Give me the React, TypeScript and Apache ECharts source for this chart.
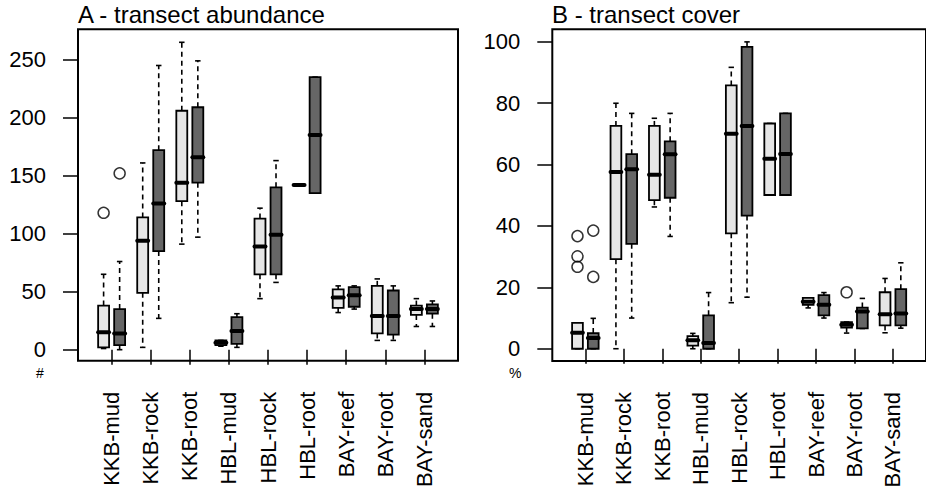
import React, { useEffect, useRef } from "react";
import * as echarts from "echarts";

// ---- data ----
const categories = ["KKB-mud", "KKB-rock", "KKB-root", "HBL-mud", "HBL-rock", "HBL-root", "BAY-reef", "BAY-root", "BAY-sand"];

// [whiskerLow, Q1, median, Q3, whiskerHigh]
const abundanceLight = [
  [1, 2, 15, 38, 65],
  [2, 49, 94, 114, 161],
  [91, 128, 144, 206, 265],
  [3, 4, 6, 8, 8],
  [44, 65, 89, 113, 122],
  [142, 142, 142, 142, 142],
  [32, 36, 45, 52, 55],
  [8, 14, 29, 55, 61],
  [20, 30, 35, 38, 44],
];
const abundanceDark = [
  [0, 4, 14, 35, 76],
  [27, 85, 126, 172, 245],
  [97, 144, 166, 209, 249],
  [2, 5, 16, 28, 31],
  [58, 65, 99, 140, 163],
  [135, 135, 185, 235, 235],
  [35, 37, 47, 54, 55],
  [8, 13, 29, 51, 55],
  [20, 31, 35, 39, 42],
];
const abundanceOutliersLight = [[0, 118]]; // [categoryIndex, value]
const abundanceOutliersDark = [[0, 152]];

const coverLight = [
  [0, 0, 5.2, 8.4, 8.4],
  [0, 29.2, 57.6, 72.6, 80],
  [46.2, 48.4, 56.7, 72.6, 75.1],
  [0, 1, 2.8, 4.1, 5],
  [15, 37.6, 70.1, 85.8, 91.7],
  [50.1, 50.1, 61.9, 73.4, 73.4],
  [13.3, 14.3, 15.3, 16.6, 16.6],
  [5.1, 6.9, 7.8, 8.7, 8.7],
  [5.2, 7.6, 11.2, 18.4, 22.9],
];
const coverDark = [
  [0, 0, 3.5, 5.1, 9.9],
  [10, 34.2, 58.5, 63.4, 76.7],
  [36.6, 49.2, 63.4, 67.6, 76.7],
  [0, 0, 1.9, 10.9, 18.3],
  [16.8, 43.4, 72.6, 98.4, 100],
  [50.1, 50.1, 63.5, 76.7, 76.7],
  [10, 10.9, 14.3, 17.5, 18.3],
  [6.6, 6.6, 12.1, 13.4, 16.4],
  [6.7, 7.6, 11.5, 19.4, 28],
];
const coverOutliersLight = [[0, 36.7], [0, 30.1], [0, 26.7], [7, 18.4]];
const coverOutliersDark = [[0, 38.5], [0, 23.4]];

const abundanceTicks = [0, 50, 100, 150, 200, 250];
const coverTicks = [0, 20, 40, 60, 80, 100];
const categoryPositions = categories.map((_, i) => i + 1);

// ---- styling ----
const FONT = "'Liberation Sans', Arial, Helvetica, sans-serif";
const LIGHT = "#e6e6e6";
const DARK = "#666666";
const OFFSET = 0.205;
const BOX_W = 0.28;

function makeRender(fill: string) {
  return (params: any, api: any) => {
    const x = api.value(0);
    const low = api.value(1), q1 = api.value(2), med = api.value(3), q3 = api.value(4), high = api.value(5);
    const w = api.size([BOX_W, 0])[0];
    const cx = api.coord([x, med])[0];
    const yLow = api.coord([x, low])[1];
    const yQ1 = api.coord([x, q1])[1];
    const yMed = api.coord([x, med])[1];
    const yQ3 = api.coord([x, q3])[1];
    const yHigh = api.coord([x, high])[1];
    const sw = w / 4;
    const children: any[] = [];
    if (high > q3) {
      children.push({ type: "line", shape: { x1: cx, y1: yQ3, x2: cx, y2: yHigh }, style: { stroke: "#000", lineWidth: 1.6, lineDash: [5, 4] } });
    }
    if (low < q1) {
      children.push({ type: "line", shape: { x1: cx, y1: yQ1, x2: cx, y2: yLow }, style: { stroke: "#000", lineWidth: 1.6, lineDash: [5, 4] } });
    }
    children.push({ type: "line", shape: { x1: cx - sw, y1: yHigh, x2: cx + sw, y2: yHigh }, style: { stroke: "#000", lineWidth: 1.6 } });
    children.push({ type: "line", shape: { x1: cx - sw, y1: yLow, x2: cx + sw, y2: yLow }, style: { stroke: "#000", lineWidth: 1.6 } });
    children.push({
      type: "rect",
      shape: { x: cx - w / 2, y: yQ3, width: w, height: Math.max(yQ1 - yQ3, 0) },
      style: { fill, stroke: "#000", lineWidth: 1.8 },
    });
    children.push({ type: "line", shape: { x1: cx - w / 2, y1: yMed, x2: cx + w / 2, y2: yMed }, style: { stroke: "#000", lineWidth: 4, lineCap: "round" } });
    return { type: "group", children };
  };
}

function boxData(stats: number[][], offset: number) {
  return stats.map((s, i) => [i + 1 + offset, ...s]);
}
function outlierData(list: number[][], offset: number) {
  return list.map(([ci, v]) => [ci + 1 + offset, v]);
}

function xAxisFor(gridIndex: number) {
  return {
    type: "value" as const,
    gridIndex,
    min: 0.14,
    max: 9.86,
    axisLine: { show: false },
    splitLine: { show: false },
    axisTick: { show: true, customValues: categoryPositions, length: 15, lineStyle: { color: "#000", width: 1.5 } },
    axisLabel: {
      customValues: categoryPositions,
      formatter: (v: number) => categories[Math.round(v) - 1] ?? "",
      rotate: 90,
      margin: 31,
      fontSize: 22,
      color: "#000",
      fontFamily: FONT,
    },
  };
}

function yAxisFor(gridIndex: number, min: number, max: number, ticks: number[]) {
  return {
    type: "value" as const,
    gridIndex,
    min,
    max,
    axisLine: { show: false },
    splitLine: { show: false },
    axisTick: { show: true, customValues: ticks, length: 15, lineStyle: { color: "#000", width: 1.5 } },
    axisLabel: { customValues: ticks, margin: 32, fontSize: 22, color: "#000", fontFamily: FONT },
  };
}

function boxSeries(axisIndex: number, stats: number[][], offset: number, fill: string) {
  return {
    type: "custom" as const,
    xAxisIndex: axisIndex,
    yAxisIndex: axisIndex,
    renderItem: makeRender(fill),
    encode: { x: 0, y: [1, 2, 3, 4, 5] },
    data: boxData(stats, offset),
    clip: false,
  };
}

function outlierSeries(axisIndex: number, list: number[][], offset: number) {
  return {
    type: "scatter" as const,
    xAxisIndex: axisIndex,
    yAxisIndex: axisIndex,
    symbol: "circle",
    symbolSize: 11,
    itemStyle: { color: "rgba(0,0,0,0)", borderColor: "#000", borderWidth: 1.5 },
    data: outlierData(list, offset),
  };
}

export default function App() {
  const ref = useRef<HTMLDivElement>(null);
  useEffect(() => {
    if (!ref.current) return;
    const chart = echarts.init(ref.current, null, { renderer: "svg" });
    chart.setOption({
      animation: false,
      backgroundColor: "#fff",
      title: [
        { text: "A - transect abundance", left: 78, top: 2, padding: 0, textStyle: { fontSize: 24, fontWeight: "normal", color: "#000", fontFamily: FONT } },
        { text: "B - transect cover", left: 552, top: 2, padding: 0, textStyle: { fontSize: 24, fontWeight: "normal", color: "#000", fontFamily: FONT } },
      ],
      grid: [
        { left: 78, top: 29.3, width: 380, height: 331.4, show: true, borderColor: "#000", borderWidth: 2, backgroundColor: "rgba(0,0,0,0)" },
        { left: 552.3, top: 29.3, width: 380, height: 331.7, show: true, borderColor: "#000", borderWidth: 2, backgroundColor: "rgba(0,0,0,0)" },
      ],
      xAxis: [xAxisFor(0), xAxisFor(1)],
      yAxis: [yAxisFor(0, -9.5, 276.2, abundanceTicks), yAxisFor(1, -4, 104.1, coverTicks)],
      graphic: [
        { type: "text", left: 36, top: 366, style: { text: "#", fontSize: 14, fill: "#000", font: `14px ${FONT}` } },
        { type: "text", left: 509, top: 366, style: { text: "%", fontSize: 14, fill: "#000", font: `14px ${FONT}` } },
      ],
      series: [
        boxSeries(0, abundanceLight, -OFFSET, LIGHT),
        boxSeries(0, abundanceDark, OFFSET, DARK),
        outlierSeries(0, abundanceOutliersLight, -OFFSET),
        outlierSeries(0, abundanceOutliersDark, OFFSET),
        boxSeries(1, coverLight, -OFFSET, LIGHT),
        boxSeries(1, coverDark, OFFSET, DARK),
        outlierSeries(1, coverOutliersLight, -OFFSET),
        outlierSeries(1, coverOutliersDark, OFFSET),
      ],
    });
    return () => chart.dispose();
  }, []);
  return <div ref={ref} style={{ position: "fixed", left: 0, top: 0, width: 926, height: 497 }} />;
}
